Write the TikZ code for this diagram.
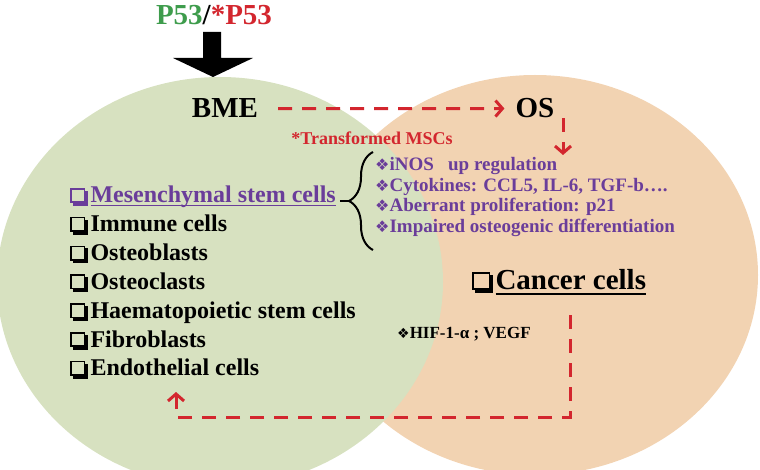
\documentclass[tikz,border=0pt]{standalone}
\usepackage{fontspec}
\setmainfont{Liberation Serif}
\newfontfamily\symf{DejaVu Sans}
\usetikzlibrary{decorations.pathreplacing,arrows.meta,calc}
\definecolor{bmegreen}{HTML}{D7E1C0}
\definecolor{osorange}{HTML}{F2D3B2}
\definecolor{dred}{HTML}{D3262E}
\definecolor{ppl}{HTML}{6A3D9A}
\definecolor{pgreen}{HTML}{3E9C4C}
% shadowed check box: [colour]{size}
\newcommand{\cbox}[2][black]{\tikz[baseline=0pt, x=1pt, y=1pt]{%
  \fill[#1] (2.8,-2.8) rectangle (#2+2.8,0);
  \fill[#1] (#2,-2.8) rectangle (#2+2.8,#2-2.8);
  \draw[#1, line width=1.6pt] (0.8,0.8) rectangle (#2-0.8,#2-0.8);}\hspace{2.5pt}}
\newcommand{\bul}[1][16]{{\normalfont\symf\fontsize{#1}{#1}\selectfont ❖}}
\newcommand{\myul}[3]{\setbox0\hbox{#3}\rlap{\raisebox{-#1}{\rule{\wd0}{#2}}}\box0}
\begin{document}
\begin{tikzpicture}[x=1pt,y=-1pt,
  lbl/.style={inner sep=0pt, font=\bfseries\fontsize{24}{28}\selectfont, anchor=base west},
  itm/.style={inner sep=0pt, font=\bfseries\fontsize{19}{22}\selectfont, text=ppl, anchor=base west},
  big/.style={inner sep=0pt, font=\bfseries\fontsize{29}{32}\selectfont},
  reddash/.style={draw=dred, line width=3pt, dash pattern=on 14pt off 10pt},
  chev/.style={-{Straight Barb[length=7pt, width=16pt, line width=3pt]}}]
\useasboundingbox (0,0) rectangle (760,470);
\begin{scope}
\clip (0,0) rectangle (760,470);
\fill[osorange] (535,275) ellipse [x radius=223pt, y radius=200pt];
\fill[bmegreen] (220,282) ellipse [x radius=223pt, y radius=205pt];
\end{scope}

% top
\node[big, anchor=base] (p53) at (214,25) {\textcolor{pgreen}{P53}/\textcolor{dred}{*P53}};
\fill (203,32) -- (221,32) -- (221,58) -- (253,58) -- (213,77) -- (173,58) -- (203,58) -- cycle;

\node[big, anchor=base] (bme) at (225,118) {BME};
\node[big, anchor=base] (os) at (535,118) {OS};
\draw[reddash, chev] ([xshift=20pt]bme.east) -- ([xshift=-11pt]os.west);
\coordinate (osd) at (563,155);
\draw[reddash, chev] (osd |- os.south) -- (osd);

\node[inner sep=0pt, anchor=base, font=\bfseries\fontsize{18}{20}\selectfont, text=dred] (tm) at (372,145) {*Transformed MSCs};

% left list
\node[lbl, text=ppl] (msc) at (70,203) {\cbox[ppl]{15}\myul{3.5pt}{1.2pt}{Mesenchymal stem cells}};
\node[lbl] (imm) at (70,231.8) {\cbox{15}Immune cells};
\node[lbl] (ob) at (70,260.6) {\cbox{15}Osteoblasts};
\node[lbl] (oc) at (70,289.4) {\cbox{15}Osteoclasts};
\node[lbl] (hsc) at (70,318.2) {\cbox{15}Haematopoietic stem cells};
\node[lbl] (fib) at (70,347) {\cbox{15}Fibroblasts};
\node[lbl] (endo) at (70,375.8) {\cbox{15}Endothelial cells};

% brace and items
\draw[line width=2pt, decorate, decoration={brace, amplitude=24pt}] (373,250) -- (373,152);
\coordinate (btip) at (349,201);
\draw[line width=1.5pt] ([xshift=4pt]msc.east |- btip) -- (btip);
\node[itm] (i1) at (375,171) {\bul iNOS\ \ \ up regulation};
\node[itm] (i2) at (375,191.5) {\bul Cytokines: CCL5, IL-6, TGF-b….};
\node[itm] (i3) at (375,212) {\bul Aberrant proliferation: p21};
\node[itm] (i4) at (375,232.5) {\bul Impaired osteogenic differentiation};

% cancer cells
\node[big, anchor=base west] (cc) at (472,290) {\cbox{18}\myul{5pt}{2pt}{Cancer cells}};
\node[inner sep=0pt, anchor=base west, font=\bfseries\fontsize{17}{19}\selectfont] (hif) at (397,338) {\bul[14]HIF-1-α ; VEGF};

\coordinate (c1) at (570,315);
\coordinate (c2) at (176,392);
\draw[reddash, chev] (c1) -- (c1 |- 0,417) -- (c2 |- 0,417) -- (c2);
\end{tikzpicture}
\end{document}
